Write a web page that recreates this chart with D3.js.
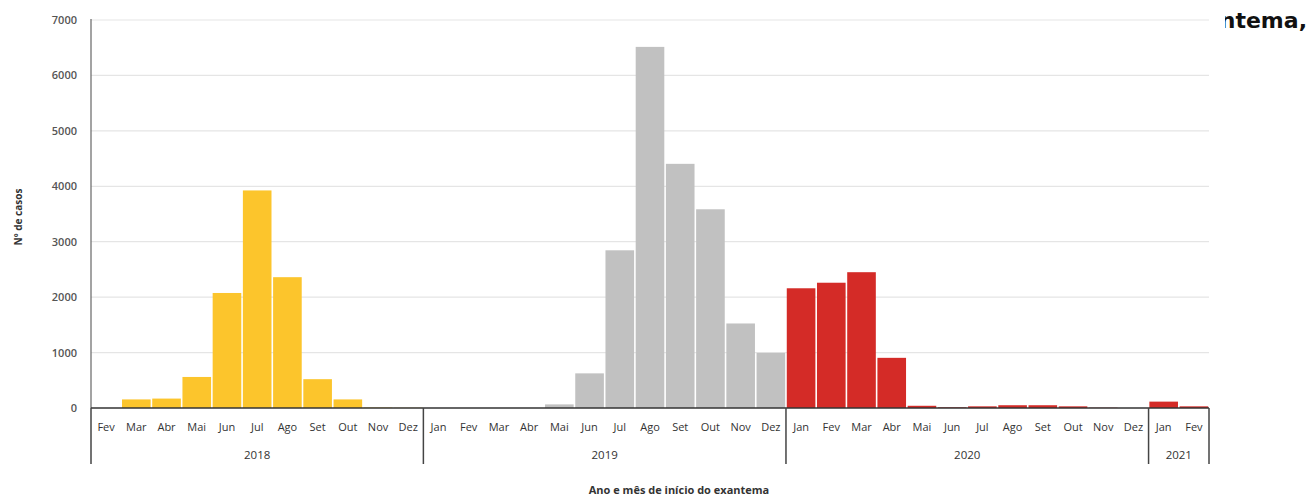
<!DOCTYPE html>
<html>
<head>
<meta charset="utf-8">
<script src="https://d3js.org/d3.v7.min.js"></script>
<style>
body { margin: 0; background: #fff; }
svg { display: block; }
</style>
</head>
<body>
<script>
// months from Fev/2018 to Fev/2021
var months = ["Fev","Mar","Abr","Mai","Jun","Jul","Ago","Set","Out","Nov","Dez",
  "Jan","Fev","Mar","Abr","Mai","Jun","Jul","Ago","Set","Out","Nov","Dez",
  "Jan","Fev","Mar","Abr","Mai","Jun","Jul","Ago","Set","Out","Nov","Dez",
  "Jan","Fev"];
var years = ["2018","2019","2020","2021"];
var monthsPerYear = [11, 12, 12, 2];
var cases = [0,155,170,560,2075,3925,2360,520,155,8,4,
  0,0,0,0,65,625,2845,6515,4405,3585,1525,995,
  2160,2260,2450,905,40,12,30,50,50,30,5,0,
  115,30];
var yTicks = [0,1000,2000,3000,4000,5000,6000,7000];
var yearColors = {"2018": "#fcc52c", "2019": "#c1c1c1", "2020": "#d42b27", "2021": "#d42b27"};

var width = 1311, height = 497;
var plotLeft = 91, plotRight = 1209, plotTop = 20, plotBase = 408;

var svg = d3.select("body").append("svg")
  .attr("width", width)
  .attr("height", height);

// year of each month
var yearOf = [];
years.forEach(function(y, i) {
  for (var k = 0; k < monthsPerYear[i]; k++) yearOf.push(y);
});

var idx = d3.range(months.length);
var x = d3.scaleBand().domain(idx).range([plotLeft, plotRight]).padding(0);
var y = d3.scaleLinear().domain([0, 7000]).range([plotBase, plotTop]);

// gridlines
svg.append("g").selectAll("line")
  .data(yTicks.slice(1))
  .enter().append("line")
  .attr("x1", plotLeft).attr("x2", plotRight)
  .attr("y1", function(d) { return y(d); })
  .attr("y2", function(d) { return y(d); })
  .attr("stroke", "#e5e5e5")
  .attr("stroke-width", 1.2);

// y tick labels
svg.append("g").selectAll("text")
  .data(yTicks)
  .enter().append("text")
  .attr("x", 77)
  .attr("y", function(d) { return y(d) + 4; })
  .attr("text-anchor", "end")
  .style("font-family", "Open Sans")
  .style("font-size", "11px")
  .style("font-weight", "600")
  .style("fill", "#555")
  .text(function(d) { return d; });

// bars
svg.append("g").selectAll("rect")
  .data(idx)
  .enter().append("rect")
  .attr("x", function(i) { return x(i) + 0.8; })
  .attr("width", x.bandwidth() - 1.6)
  .attr("y", function(i) { return y(cases[i]); })
  .attr("height", function(i) { return plotBase - y(cases[i]); })
  .attr("fill", function(i) { return yearColors[yearOf[i]]; });

// axes lines
svg.append("line")
  .attr("x1", plotLeft).attr("x2", plotLeft)
  .attr("y1", plotTop - 1).attr("y2", plotBase)
  .attr("stroke", "#666").attr("stroke-width", 1.2);
svg.append("line")
  .attr("x1", plotLeft).attr("x2", plotRight)
  .attr("y1", plotBase).attr("y2", plotBase)
  .attr("stroke", "#333").attr("stroke-width", 1.3);

// month labels
svg.append("g").selectAll("text")
  .data(idx)
  .enter().append("text")
  .attr("x", function(i) { return x(i) + x.bandwidth() / 2; })
  .attr("y", 431)
  .attr("text-anchor", "middle")
  .style("font-family", "Open Sans")
  .style("font-size", "11px")
  .style("fill", "#333")
  .text(function(i) { return months[i]; });

// year separators and labels
var start = 0;
var bounds = [];
years.forEach(function(yr, i) {
  bounds.push({ yr: yr, a: start, b: start + monthsPerYear[i] - 1 });
  start += monthsPerYear[i];
});
var sepX = [plotLeft].concat(bounds.map(function(d) { return x(d.b) + x.bandwidth(); }));
svg.append("g").selectAll("line")
  .data(sepX)
  .enter().append("line")
  .attr("x1", function(d) { return d; })
  .attr("x2", function(d) { return d; })
  .attr("y1", plotBase).attr("y2", 464)
  .attr("stroke", "#444").attr("stroke-width", 1.5);

svg.append("g").selectAll("text")
  .data(bounds)
  .enter().append("text")
  .attr("x", function(d) { return (x(d.a) + x(d.b) + x.bandwidth()) / 2; })
  .attr("y", 459)
  .attr("text-anchor", "middle")
  .style("font-family", "Open Sans")
  .style("font-size", "11.5px")
  .style("fill", "#333")
  .text(function(d) { return d.yr; });

// axis titles
svg.append("text")
  .attr("x", 679).attr("y", 494)
  .attr("text-anchor", "middle")
  .style("font-family", "Open Sans")
  .style("font-size", "11px")
  .style("font-weight", "700")
  .style("fill", "#333")
  .text("Ano e mês de início do exantema");

svg.append("text")
  .attr("transform", "translate(22,217) rotate(-90)")
  .attr("text-anchor", "middle")
  .style("font-family", "Open Sans")
  .style("font-size", "10px")
  .style("font-weight", "700")
  .style("fill", "#333")
  .text("Nº de casos");

// cut-off title piece at top right
svg.append("clipPath").attr("id", "titleClip")
  .append("rect").attr("x", 1225).attr("y", 0).attr("width", 86).attr("height", 40);
svg.append("text")
  .attr("clip-path", "url(#titleClip)")
  .attr("x", 1307).attr("y", 28)
  .attr("text-anchor", "end")
  .style("font-family", "DejaVu Sans")
  .style("font-size", "22px")
  .style("font-weight", "700")
  .style("fill", "#111")
  .text("ntema,");
</script>
</body>
</html>
